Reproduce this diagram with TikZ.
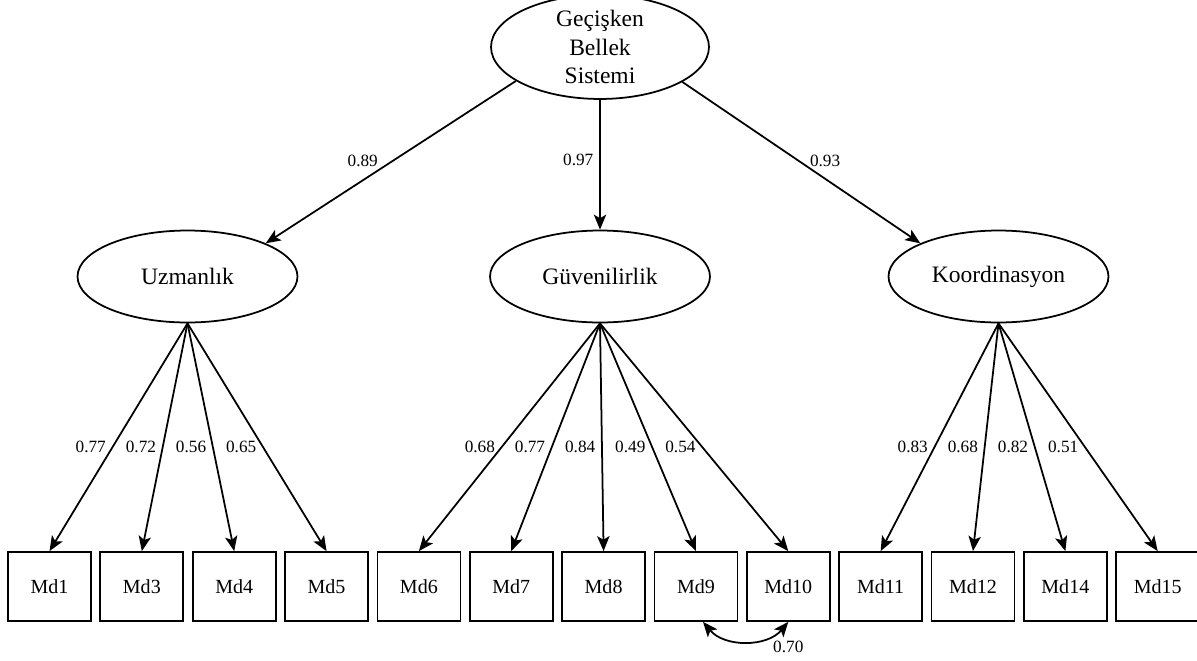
\documentclass[tikz,border=0pt]{standalone}
\usepackage{fontspec}
\setmainfont{Liberation Serif}
\usetikzlibrary{arrows.meta,shapes}

\begin{document}
\begin{tikzpicture}[x=0.02cm,y=-0.02cm,
    latent/.style={draw,ellipse,line width=1pt,inner sep=0pt,minimum width=4.4cm,minimum height=1.84cm,font=\fontsize{13.4}{16.2}\selectfont,align=center},
    item/.style={draw,rectangle,line width=1pt,inner sep=0pt,minimum width=1.66cm,minimum height=1.38cm,font=\fontsize{11.4}{13}\selectfont},
    load/.style={font=\fontsize{9.8}{11}\selectfont},
    path/.style={line width=1pt,-{Stealth[length=8.5pt,width=7pt,inset=2pt]}}]
    \useasboundingbox (0,0) rectangle (1197,660);

    % factors
    \node[latent,minimum width=4.36cm,minimum height=1.8cm] (gbs) at (600,47) {Geçişken\\Bellek\\Sistemi};
    \node[latent] (uz) at (187.5,276.5) {Uzmanlık};
    \node[latent] (guv) at (600,276.5) {Güvenilirlik};
    \node[latent] (koor) at (998.5,276.5) {Koordinasyon};

    % second order loadings
    \draw[path] (gbs.202.7) -- node[load,pos=0.49,left=5pt] {0.89} (uz.23);
    \draw[path] (gbs.south) -- node[load,pos=0.46,left] {0.97} (guv.north);
    \draw[path] (gbs.337.3) -- node[load,pos=0.49,right=2.5pt] {0.93} (koor.157);

    % items
    \foreach \n [count=\i from 0] in {1,3,4,5,6,7,8,9,10,11,12,14,15}
      \node[item] (md\n) at ({49.5+92.35*\i},586.5) {Md\n};

    % first order loadings
    \foreach \t/\v in {md1/0.77,md3/0.72,md4/0.56,md5/0.65}
      \draw[path] (uz.south) -- node[load,pos=0.543,left] {\v} (\t.north);
    \foreach \t/\v in {md6/0.68,md7/0.77,md8/0.84,md9/0.49,md10/0.54}
      \draw[path] (guv.south) -- node[load,pos=0.543,left] {\v} (\t.north);
    \foreach \t/\v in {md11/0.83,md12/0.68,md14/0.82,md15/0.51}
      \draw[path] (koor.south) -- node[load,pos=0.543,left] {\v} (\t.north);

    % error covariance
    \draw[line width=1pt,{Stealth[length=8.5pt,width=7pt,inset=2pt]}-{Stealth[length=8.5pt,width=7pt,inset=2pt]}]
      ([xshift=4]md9.south) to[bend right=50] node[load,pos=1,below=7pt] {0.70} (md10.south);
  \end{tikzpicture}
\end{document}
